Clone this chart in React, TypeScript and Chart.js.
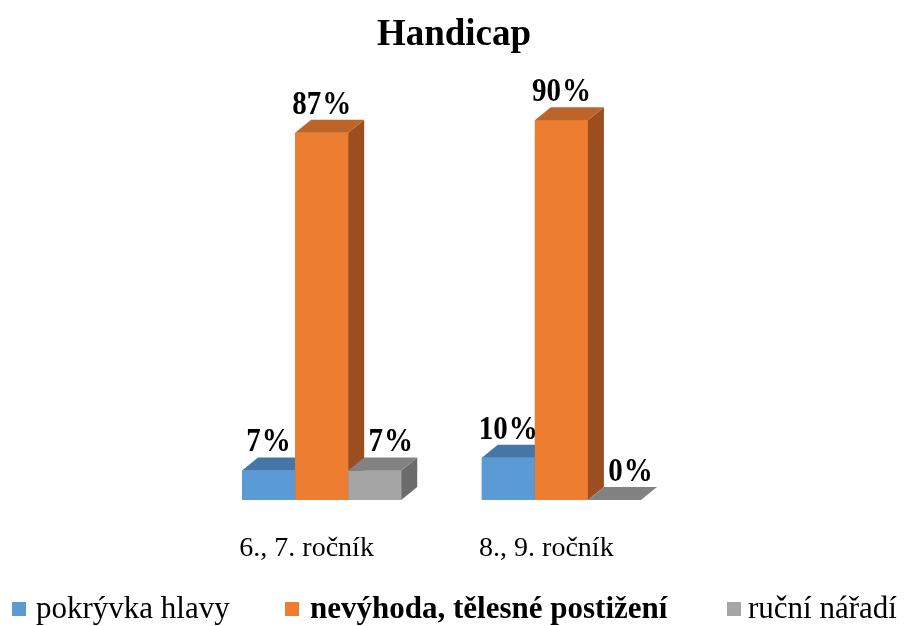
import React, { useEffect, useRef } from "react";
import { Chart, registerables } from "chart.js";

Chart.register(...registerables);

const chartTitle = "Handicap";
const categories = ["6., 7. ročník", "8., 9. ročník"];
const seriesNames = ["pokrývka hlavy", "nevýhoda, tělesné postižení", "ruční nářadí"];
const pokryvkaHlavy = [7, 10];
const nevyhodaPostizeni = [87, 90];
const rucniNaradi = [7, 0];

const faces = [
  { front: "#5B9BD5", top: "#4576A8", side: "#3A6590" },
  { front: "#ED7D31", top: "#BF6428", side: "#9C4E1E" },
  { front: "#A5A5A5", top: "#828282", side: "#6C6C6C" },
];
const labelShift = [0, 0, 1];
const legendBold = [false, true, false];
const legendPos = [
  { sq: 12, tx: 36 },
  { sq: 285, tx: 310 },
  { sq: 727, tx: 748 },
];

const DX = 16;
const DY = 13;
const SERIF = '"Liberation Serif", "Times New Roman", serif';

const bar3dPlugin = {
  id: "bar3d",
  afterDatasetsDraw(chart: any) {
    const ctx = chart.ctx;
    ctx.save();
    chart.data.datasets.forEach((ds: any, i: number) => {
      const meta = chart.getDatasetMeta(i);
      meta.data.forEach((el: any) => {
        const { x, y, base, width } = el.getProps(["x", "y", "base", "width"], true);
        const l = x - width / 2;
        const r = x + width / 2;
        const f = faces[i];
        if (base - y > 0) {
          ctx.fillStyle = f.front;
          ctx.fillRect(l, y, width, base - y);
          ctx.fillStyle = f.side;
          ctx.beginPath();
          ctx.moveTo(r, y);
          ctx.lineTo(r + DX, y - DY);
          ctx.lineTo(r + DX, base - DY);
          ctx.lineTo(r, base);
          ctx.closePath();
          ctx.fill();
        }
        ctx.fillStyle = f.top;
        ctx.beginPath();
        ctx.moveTo(l, y);
        ctx.lineTo(l + DX, y - DY);
        ctx.lineTo(r + DX, y - DY);
        ctx.lineTo(r, y);
        ctx.closePath();
        ctx.fill();
      });
    });
    // data labels
    ctx.font = `bold 29px ${SERIF}`;
    ctx.fillStyle = "#000";
    ctx.textBaseline = "alphabetic";
    ctx.textAlign = "left";
    chart.data.datasets.forEach((ds: any, i: number) => {
      const meta = chart.getDatasetMeta(i);
      meta.data.forEach((el: any, j: number) => {
        const { x, y } = el.getProps(["x", "y"], true);
        const num = String(ds.data[j]);
        const gap = 1;
        const wn = ctx.measureText(num).width;
        const wp = ctx.measureText("%").width;
        const total = wn + gap + wp;
        const cx = x + labelShift[i] * DX;
        const sx = cx - total / 2;
        const by = y - DY - 6;
        ctx.save();
        ctx.translate(0, by);
        ctx.scale(1, 1.13);
        ctx.fillText(num, sx, 0);
        ctx.fillText("%", sx + wn + gap, 0);
        ctx.restore();
      });
    });
    ctx.restore();
  },
  afterDraw(chart: any) {
    const ctx = chart.ctx;
    ctx.save();
    ctx.fillStyle = "#000";
    ctx.textBaseline = "alphabetic";
    ctx.textAlign = "center";
    ctx.font = `bold 37px ${SERIF}`;
    ctx.fillText(chartTitle, 454, 45);
    ctx.textAlign = "left";
    seriesNames.forEach((name, i) => {
      ctx.fillStyle = faces[i].front;
      ctx.fillRect(legendPos[i].sq, 602, 14, 14);
      ctx.fillStyle = "#000";
      ctx.font = `${legendBold[i] ? "bold " : ""}31px ${SERIF}`;
      ctx.fillText(name, legendPos[i].tx, 618);
    });
    ctx.restore();
  },
};

export default function App() {
  const ref = useRef<HTMLCanvasElement | null>(null);
  useEffect(() => {
    if (!ref.current) return;
    const chart = new Chart(ref.current, {
      type: "bar",
      data: {
        labels: categories,
        datasets: [
          { label: seriesNames[0], data: pokryvkaHlavy, backgroundColor: faces[0].front },
          { label: seriesNames[1], data: nevyhodaPostizeni, backgroundColor: faces[1].front },
          { label: seriesNames[2], data: rucniNaradi, backgroundColor: faces[2].front },
        ],
      },
      options: {
        responsive: false,
        animation: false,
        events: [],
        layout: { padding: { top: 78, left: 201.75, right: 223.75, bottom: 0 } },
        datasets: { bar: { categoryPercentage: 0.664, barPercentage: 1.0 } },
        plugins: {
          legend: { display: false },
          title: { display: false },
          tooltip: { enabled: false },
        },
        scales: {
          y: { display: false, min: 0, max: 100 },
          x: {
            grid: { display: false, drawTicks: false },
            border: { display: false },
            ticks: {
              color: "#000",
              font: { family: SERIF, size: 28 },
              padding: 32,
              labelOffset: -15,
              maxRotation: 0,
            },
            afterFit: (scale: any) => {
              scale.height = 126;
            },
          },
        },
      },
      plugins: [bar3dPlugin],
    });
    return () => chart.destroy();
  }, []);
  return (
    <div style={{ position: "fixed", left: 0, top: 0, width: 905, height: 626, background: "#fff" }}>
      <canvas ref={ref} width={905} height={626} />
    </div>
  );
}
